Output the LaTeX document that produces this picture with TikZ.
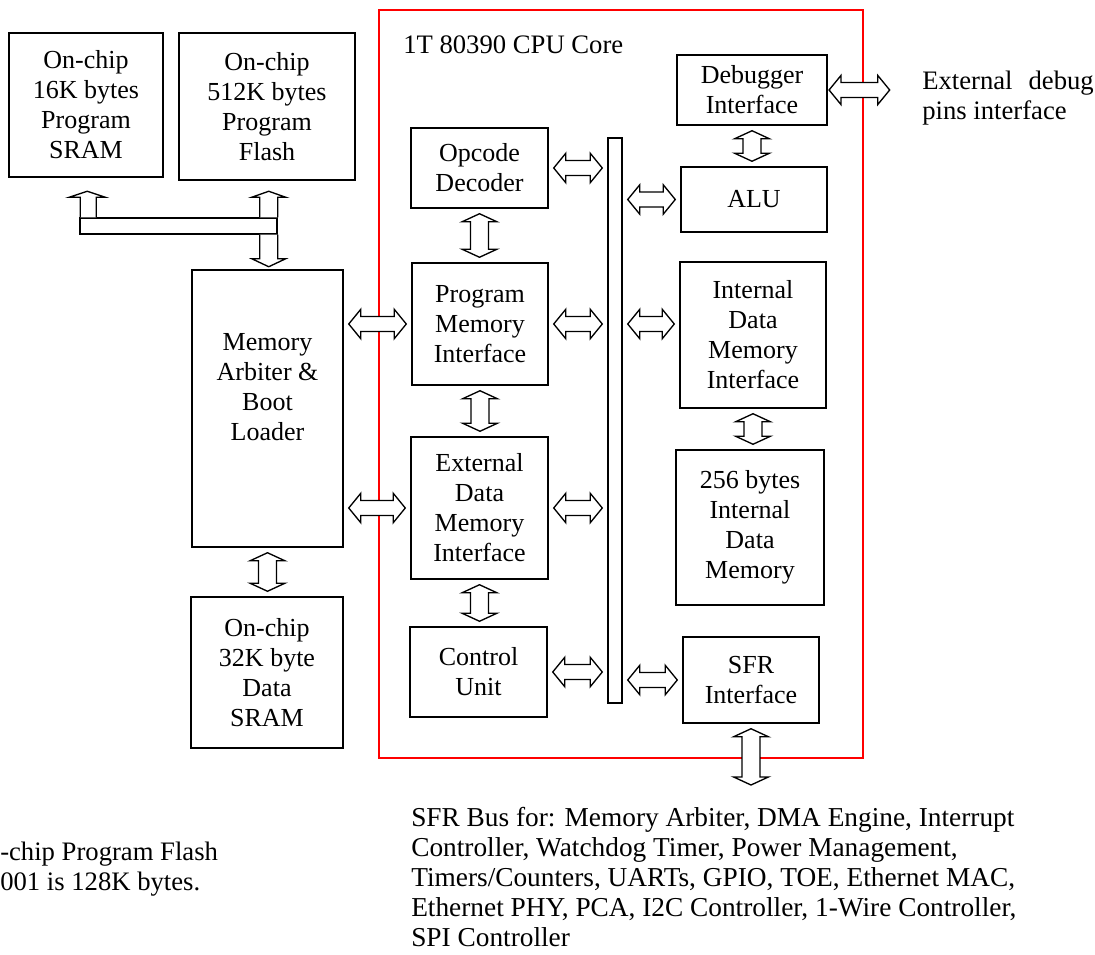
\documentclass[tikz,border=0pt]{standalone}
\usepackage{fontspec}
\setmainfont{Liberation Serif}
\usetikzlibrary{calc,positioning}
\newcommand{\px}{0.75pt}
\tikzstyle{box}=[rectangle,draw,line width=1.1pt,align=center,inner sep=0pt]
\tikzstyle{hollow}=[draw,line width=1pt,fill=white,line join=miter]
\tikzstyle{core}=[rectangle,draw=red,line width=1.6pt,inner sep=0pt]
\tikzstyle{txt}=[align=left,inner sep=0pt,font=\fontsize{20}{22.5}\selectfont]
% hollow double arrow, left to right, at the height of the first point
\newcommand{\hdarrow}[3][3.75pt]{%
\draw[hollow] let \p1=(#2), \p2=(#3) in
 (\x1+#1,\y1) -- (\x1+#1+9pt,\y1+11pt) -- (\x1+#1+9pt,\y1+5.6pt)
 -- (\x2-#1-9pt,\y1+5.6pt) -- (\x2-#1-9pt,\y1+11pt) -- (\x2-#1,\y1)
 -- (\x2-#1-9pt,\y1-11pt) -- (\x2-#1-9pt,\y1-5.6pt)
 -- (\x1+#1+9pt,\y1-5.6pt) -- (\x1+#1+9pt,\y1-11pt) -- cycle;}
% hollow double arrow, top to bottom, at the x of the first point
\newcommand{\vdarrow}[3][3.75pt]{%
\draw[hollow] let \p1=(#2), \p2=(#3) in
 (\x1,\y1-#1) -- (\x1+13pt,\y1-#1-6pt) -- (\x1+6.7pt,\y1-#1-6pt)
 -- (\x1+6.7pt,\y2+#1+6pt) -- (\x1+13pt,\y2+#1+6pt) -- (\x1,\y2+#1)
 -- (\x1-13pt,\y2+#1+6pt) -- (\x1-6.7pt,\y2+#1+6pt)
 -- (\x1-6.7pt,\y1-#1-6pt) -- (\x1-13pt,\y1-#1-6pt) -- cycle;}

\begin{document}
\begin{tikzpicture}[x=0.75pt,y=-0.75pt,font=\fontsize{19.5}{22.5}\selectfont]
\useasboundingbox (0,0) rectangle (1095,955);

% memories and arbiter outside the core
\node[box,minimum width=154*\px,minimum height=144*\px] (psram) at (86,105) {On-chip\\16K bytes\\Program\\SRAM};
\node[box,minimum width=176*\px,minimum height=147*\px] (pflash) at (267,106.5) {On-chip\\512K bytes\\Program\\Flash};
\node[box,minimum width=197*\px,minimum height=16*\px] (pbus) at (178.5,226) {};
\node[box,minimum width=151*\px,minimum height=277*\px] (arb) at (267.5,408.5) {Memory\\Arbiter \&\\Boot\\Loader\\[10pt]\mbox{}};
\node[box,minimum width=152*\px,minimum height=151*\px] (dsram) at (267,672.5) {On-chip\\32K byte\\Data\\SRAM};

% the core
\node[core,minimum width=484*\px,minimum height=748*\px] (core) at (621,384) {};
\node[anchor=base west,inner sep=0pt,font=\fontsize{20}{22.5}\selectfont] (coretitle) at (403,54) {1T 80390 CPU Core};
\node[box,minimum width=137*\px,minimum height=80*\px] (opdec) at (479.5,168) {Opcode\\Decoder};
\node[box,minimum width=136*\px,minimum height=122*\px] (pmi) at (480,324) {Program\\Memory\\Interface};
\node[box,minimum width=137*\px,minimum height=142*\px] (edmi) at (479.5,508) {External\\Data\\Memory\\Interface};
\node[box,minimum width=137*\px,minimum height=90*\px] (ctrl) at (478.5,672) {Control\\Unit};
\node[box,minimum width=14*\px,minimum height=565*\px] (ibus) at (615,420.5) {};
\node[box,minimum width=150*\px,minimum height=70*\px] (dbg) at (752,90) {Debugger\\Interface};
\node[box,minimum width=146*\px,minimum height=65*\px] (alu) at (754,199.5) {ALU};
\node[box,minimum width=146*\px,minimum height=146*\px] (idmi) at (753,335) {Internal\\Data\\Memory\\Interface};
\node[box,minimum width=148*\px,minimum height=155*\px] (idm) at (750,527.5) {256 bytes\\Internal\\Data\\Memory};
\node[box,minimum width=136*\px,minimum height=86*\px] (sfr) at (751,680) {SFR\\Interface};

% texts
\node[txt,anchor=north west] (pins) at (922,71) {External\hspace{0.6em}debug\\pins interface};
\node[txt,anchor=north west,font=\fontsize{20.5}{22.5}\selectfont] (sfrbus) at (411,807) {SFR Bus for: Memory Arbiter, DMA Engine, Interrupt\\
Controller, Watchdog Timer, Power Management,\\
Timers/Counters, UARTs, GPIO, TOE, Ethernet MAC,\\
Ethernet PHY, PCA, I2C Controller, 1-Wire Controller,\\
SPI Controller};
\node[txt,anchor=north west] (fnote) at (0,842) {-chip Program Flash\\001 is 128K bytes.};
\coordinate (pinsend) at (891,83);
\coordinate (sfrend) at (751,790);

% program memory bus
\draw[hollow] ([xshift=1*\px]pbus.north west) -- ++(0,-20) -- ++(-11,0) -- ++(18,-6) -- ++(18,6) -- ++(-9,0) -- ++(0,20);
\draw[hollow] ([xshift=-18*\px]pbus.north east) -- ++(0,-20) -- ++(-8,0) -- ++(17,-6) -- ++(17,6) -- ++(-8,0) -- ++(0,20);
\draw[hollow] ([xshift=-18*\px]pbus.south east) -- ++(0,24) -- ++(-8,0) -- ++(17,8) -- ++(17,-8) -- ++(-8,0) -- ++(0,-24);

% connections
\hdarrow{arb.east |- pmi.west}{pmi.west}
\hdarrow{arb.east |- edmi.west}{edmi.west}
\vdarrow{arb.south}{dsram.north}
\hdarrow{opdec.east}{ibus.west |- opdec.east}
\hdarrow{pmi.east}{ibus.west |- pmi.east}
\hdarrow{edmi.east}{ibus.west |- edmi.east}
\hdarrow{ctrl.east}{ibus.west |- ctrl.east}
\hdarrow{ibus.east |- alu.west}{alu.west}
\hdarrow{ibus.east |- pmi.east}{idmi.west |- pmi.east}
\hdarrow{ibus.east |- sfr.west}{sfr.west}
\vdarrow{opdec.south}{pmi.north}
\vdarrow{pmi.south}{edmi.north}
\vdarrow{edmi.south}{ctrl.north}
\vdarrow{dbg.south}{alu.north}
\vdarrow{idmi.south}{idm.north}
\vdarrow{sfr.south}{sfrend}
\hdarrow[1pt]{dbg.east}{pinsend}
\end{tikzpicture}
\end{document}
